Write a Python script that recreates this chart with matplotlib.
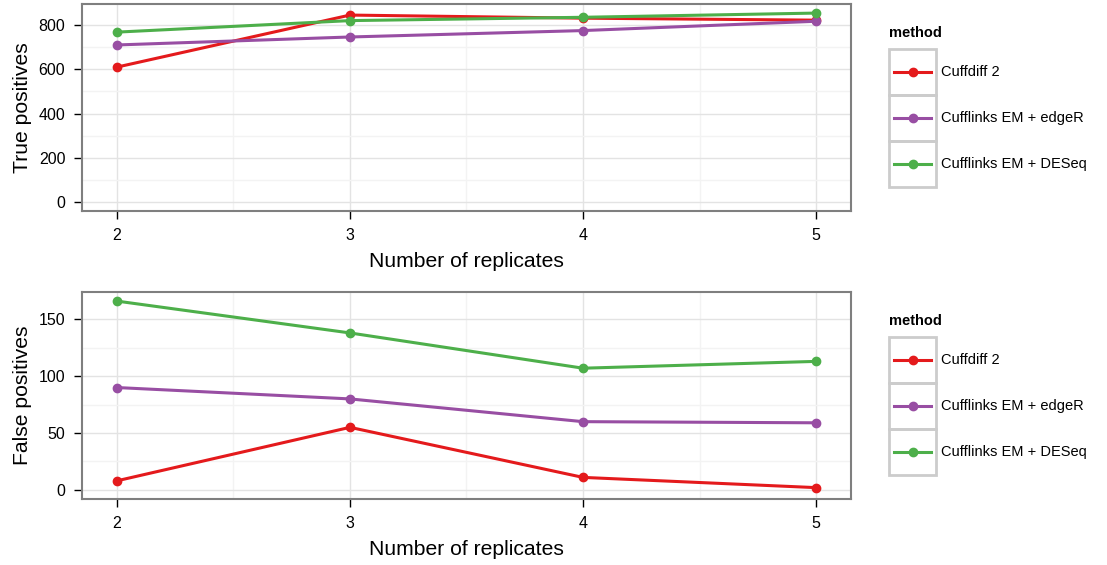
import numpy as np
import matplotlib.pyplot as plt
from matplotlib.patches import Rectangle
from matplotlib.lines import Line2D

plt.rcParams['font.family'] = ['Liberation Sans', 'DejaVu Sans']

replicates = [2, 3, 4, 5]
methods = ['Cuffdiff 2', 'Cufflinks EM + edgeR', 'Cufflinks EM + DESeq']
colors = ['#E41A1C', '#984EA3', '#4DAF4A']

true_pos = {
    'Cuffdiff 2': [610, 845, 831, 822],
    'Cufflinks EM + edgeR': [710, 746, 775, 817],
    'Cufflinks EM + DESeq': [768, 820, 835, 854],
}
false_pos = {
    'Cuffdiff 2': [8, 55, 11, 2],
    'Cufflinks EM + edgeR': [90, 80, 60, 59],
    'Cufflinks EM + DESeq': [166, 138, 107, 113],
}

W, H = 1107, 565
fig = plt.figure(figsize=(W / 100, H / 100), dpi=100)


def px_axes(x0, y0, x1, y1):
    return fig.add_axes([x0 / W, 1 - y1 / H, (x1 - x0) / W, (y1 - y0) / H])


def style_axes(ax, ylabel, yticks, yminor, ylim):
    ax.set_xlim(1.85, 5.15)
    ax.set_ylim(*ylim)
    ax.set_xticks(replicates)
    ax.set_xticks([2.5, 3.5, 4.5], minor=True)
    ax.set_yticks(yticks)
    ax.set_yticks(yminor, minor=True)
    ax.grid(True, which='major', color='#e3e3e3', linewidth=1.0, zorder=0)
    ax.grid(True, which='minor', color='#f3f3f3', linewidth=1.0, zorder=0)
    ax.set_axisbelow(True)
    for s in ax.spines.values():
        s.set_color('#7f7f7f')
        s.set_linewidth(1.5)
    ax.tick_params(which='major', direction='out', length=6, width=1,
                   color='black', labelsize=11.5, pad=6)
    ax.tick_params(which='minor', length=0)
    ax.set_xlabel('Number of replicates', fontsize=15.2, labelpad=6.5)
    ax.set_ylabel(ylabel, fontsize=15.2, labelpad=5)


def draw_legend(ax_leg, top):
    ax_leg.text(889, top, 'method', fontsize=10.5, fontweight='bold',
                va='center', ha='left')
    for i, (m, c) in enumerate(zip(methods, colors)):
        y0 = top + 16 + i * 46
        ax_leg.add_patch(Rectangle((889, y0), 47, 46, fill=False,
                                   edgecolor='#cccccc', linewidth=2))
        yc = y0 + 23
        ax_leg.add_line(Line2D([894, 931], [yc, yc], color=c, linewidth=2.2))
        ax_leg.plot(912.5, yc, 'o', color=c, markersize=6)
        ax_leg.text(941, yc, m, fontsize=10.5, va='center', ha='left')


ax1 = px_axes(82, 4, 851, 211)
ax2 = px_axes(82, 292, 851, 499)

for m, c in zip(methods, colors):
    ax1.plot(replicates, true_pos[m], '-o', color=c, linewidth=2.2,
             markersize=6, zorder=3)
    ax2.plot(replicates, false_pos[m], '-o', color=c, linewidth=2.2,
             markersize=6, zorder=3)

style_axes(ax1, 'True positives', [0, 200, 400, 600, 800],
           [100, 300, 500, 700], (-40, 895))
style_axes(ax2, 'False positives', [0, 50, 100, 150],
           [25, 75, 125], (-8, 174))

leg = fig.add_axes([0, 0, 1, 1], zorder=5)
leg.set_xlim(0, W)
leg.set_ylim(H, 0)
leg.axis('off')
draw_legend(leg, 33)
draw_legend(leg, 321)

fig.savefig('out.png', dpi=100)
